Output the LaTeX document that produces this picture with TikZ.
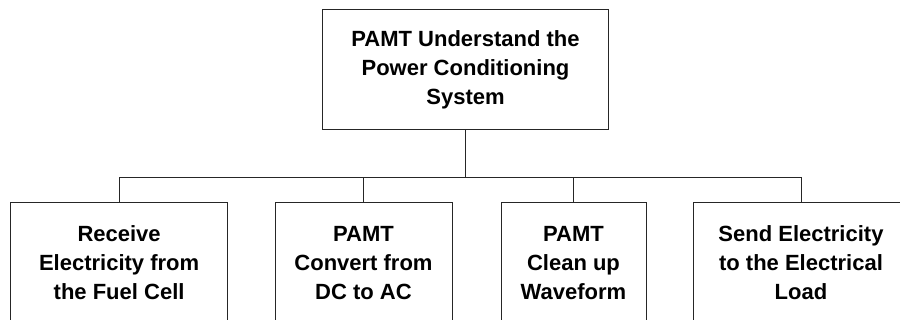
\documentclass[tikz,border=0pt]{standalone}
\usepackage{fontspec}
\setmainfont{Liberation Sans}
\usetikzlibrary{positioning}

\begin{document}
\begin{tikzpicture}[x=1pt, y=-1pt]
  \tikzset{
  box/.style={
    rectangle, draw=black!85, line width=1pt, align=center,
    minimum height=120pt, inner sep=0pt,
    font=\fontsize{22}{29}\selectfont\bfseries
  },
  topbox/.style={box, minimum width=285.6pt},
  leaf/.style={box, anchor=north},
  link/.style={draw=black!85, line width=1pt},
}

%% ---- FRAME ----
\clip (0,0) rectangle (900,320);

%% ---- TOP ----
\node[topbox] (pcs) at (465.5,70) {PAMT Understand the\\Power Conditioning\\System};

%% ---- LEAVES ----
\node[leaf, minimum width=216.8pt] (receive) at (119.1,202.3) {Receive\\Electricity from\\the Fuel Cell};
\node[leaf, minimum width=177pt]   (convert) at (363.5,202.3) {PAMT\\Convert from\\DC to AC};
\node[leaf, minimum width=145pt]   (cleanup) at (573.5,202.3) {PAMT\\Clean up\\Waveform};
\node[leaf, minimum width=216pt]   (send)    at (801,202.3)   {Send Electricity\\to the Electrical\\Load};

%% ---- CONNECTORS ----
\coordinate (bus) at (465.5,177.7);
\draw[link] (pcs.south) -- (pcs.south |- bus);
\draw[link] (receive.north) |- (send.north |- bus) -- (send.north);
\draw[link] (convert.north) -- (convert.north |- bus);
\draw[link] (cleanup.north) -- (cleanup.north |- bus);

\end{tikzpicture}
\end{document}
